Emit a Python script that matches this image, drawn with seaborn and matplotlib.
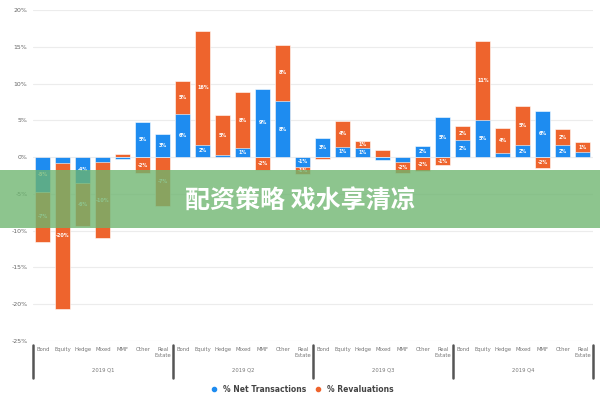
import numpy as np
import pandas as pd
import matplotlib
matplotlib.use("Agg")
import matplotlib.pyplot as plt
import matplotlib.transforms as mtransforms
from matplotlib.patches import Rectangle
from matplotlib.lines import Line2D
import seaborn as sns

# data (% of assets)
fund_types = ["Bond", "Equity", "Hedge", "Mixed", "MMF", "Other", "Real\nEstate"]
quarters = ["2019 Q1", "2019 Q2", "2019 Q3", "2019 Q4"]
net_transactions = [
    -4.7, -0.8, -3.5, -0.7, -0.2, 4.8, 3.1,
    5.8, 1.7, 0.3, 1.2, 9.3, 7.6, -1.3,
    2.6, 1.4, 1.2, -0.4, -0.6, 1.5, 5.4,
    2.3, 5.1, 0.5, 1.6, 6.3, 1.6, 0.7,
]
revaluations = [
    -6.8, -19.8, -5.8, -10.3, 0.4, -2.2, -6.7,
    4.6, 15.5, 5.4, 7.6, -1.8, 7.7, -1.0,
    -0.3, 3.5, 1.0, 0.9, -1.6, -1.9, -1.1,
    1.9, 10.7, 3.5, 5.3, -1.5, 2.2, 1.3,
]
yticks = [20, 15, 10, 5, 0, -5, -10, -15, -20, -25]

blue = "#1e8cf0"
orange = "#ee642d"

n = len(net_transactions)
ids = [str(i) for i in range(n)]
df = pd.DataFrame({"id": ids, "net": net_transactions, "reval": revaluations})
# diverging stack: revaluations sit on top of net when same sign
same = np.sign(df["net"]) == np.sign(df["reval"])
df["reval_top"] = np.where(same, df["net"] + df["reval"], df["reval"])
df["reval_base"] = np.where(same, df["net"], 0)

sns.set_theme(style="white")
plt.rcParams["font.family"] = ["DejaVu Sans"]

fig = plt.figure(figsize=(6, 4), dpi=100)
ax = fig.add_axes([0.055, 0.1475, 0.9333, 0.8275])

sns.barplot(data=df, x="id", y="reval_top", order=ids, color=orange, width=0.75,
            saturation=1, edgecolor="white", linewidth=0.4, ax=ax)
sns.barplot(data=df, x="id", y="net", order=ids, color=blue, width=0.75,
            saturation=1, edgecolor="white", linewidth=0.4, ax=ax)

# segment labels
for i, row in df.iterrows():
    if abs(row["net"]) >= 1:
        ax.text(i, row["net"] / 2, f"{round(row['net'])}%", ha="center", va="center",
                color="white", fontsize=3.5, fontweight="bold")
    if abs(row["reval"]) >= 1:
        ax.text(i, row["reval_base"] + row["reval"] / 2, f"{round(row['reval'])}%",
                ha="center", va="center", color="white", fontsize=3.5, fontweight="bold")

ax.set_xlim(-0.5, n - 0.5)
ax.set_ylim(-25, 20)
ax.set_yticks(yticks)
ax.set_yticklabels([f"{t}%" for t in yticks], fontsize=4.5, color="#666666")
ax.yaxis.grid(True, color="#ececec", linewidth=0.8)
ax.set_axisbelow(True)
ax.set_xticks(range(n))
ax.set_xticklabels(fund_types * len(quarters), fontsize=3.8, color="#777777", linespacing=1.3)
ax.tick_params(axis="x", length=0, pad=4)
ax.tick_params(axis="y", length=0, pad=4)
ax.set_xlabel("")
ax.set_ylabel("")
sns.despine(ax=ax, left=True, bottom=True, top=True, right=True)

# group separators and quarter labels
trans = mtransforms.blended_transform_factory(ax.transData, ax.transAxes)
for k in range(len(quarters) + 1):
    xs = k * 7 - 0.5
    ax.add_line(Line2D([xs, xs], [-0.012, -0.112], transform=trans, color="#555555",
                       linewidth=1.8, clip_on=False))
for k, q in enumerate(quarters):
    ax.text(k * 7 + 3, -0.088, q, transform=trans, ha="center", va="center",
            fontsize=3.8, color="#777777")

handles = [
    Line2D([], [], marker="o", linestyle="", color=blue, markersize=3),
    Line2D([], [], marker="o", linestyle="", color=orange, markersize=3),
]
fig.legend(handles, ["% Net Transactions", "% Revaluations"], loc="center",
           bbox_to_anchor=(0.5, 0.027), ncol=2, frameon=False, handletextpad=0.1,
           columnspacing=0.6, prop={"size": 5.5, "weight": "bold"}, labelcolor="#444444")

# green banner overlay
fig.patches.append(Rectangle((0, 0.43), 1, 0.145, transform=fig.transFigure,
                             facecolor="#6db56f", alpha=0.78, edgecolor="none", zorder=10))
fig.text(0.5, 0.497, "配资策略 戏水享清凉", ha="center", va="center", color="white",
         fontsize=18, fontweight="bold", family=["Noto Sans CJK SC", "DejaVu Sans"], zorder=11)

fig.savefig("out.png", dpi=100)
